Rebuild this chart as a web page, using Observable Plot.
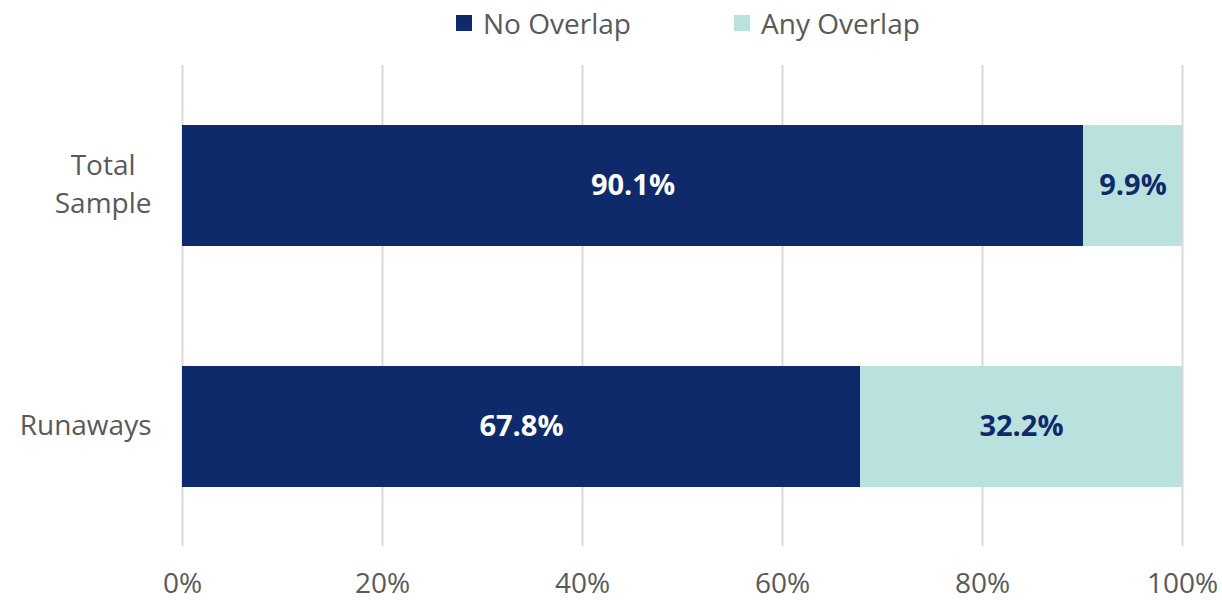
<!DOCTYPE html>
<html>
<head>
<meta charset="utf-8">
<script src="https://cdn.jsdelivr.net/npm/d3@7"></script>
<script src="https://cdn.jsdelivr.net/npm/@observablehq/plot@0.6"></script>
<style>
  body { margin: 0; background: #fff; font-family: "Open Sans", sans-serif; }
  #legend { height: 48px; position: relative; color: #595959; font-size: 28px; }
  .item { position: absolute; top: 4px; display: flex; align-items: center; }
  .sw { width: 16px; height: 16px; margin-right: 11px; }
</style>
</head>
<body>
<div id="legend"></div>
<div id="chart"></div>
<script>
const categories = ["Total\nSample", "Runaways"];
const series = ["No Overlap", "Any Overlap"];
const noOverlap = [90.1, 67.8];
const anyOverlap = [9.9, 32.2];
const xTicks = [0, 20, 40, 60, 80, 100];
const colors = ["#0e2a6b", "#b9e2de"];
const labelColors = ["#ffffff", "#0e2a6b"];

const data = [];
categories.forEach((c, i) => {
  data.push({cat: c, series: series[0], value: noOverlap[i]});
  data.push({cat: c, series: series[1], value: anyOverlap[i]});
});

// legend
const legend = document.getElementById("legend");
const legendX = [456, 734];
series.forEach((s, i) => {
  const d = document.createElement("div");
  d.className = "item";
  d.style.left = legendX[i] + "px";
  d.innerHTML = `<span class="sw" style="background:${colors[i]}"></span><span>${s}</span>`;
  legend.appendChild(d);
});

const chart = Plot.plot({
  width: 1222,
  height: 552,
  marginLeft: 182,
  marginRight: 40,
  marginTop: 17,
  marginBottom: 54,
  style: {fontFamily: "Open Sans, sans-serif", fontSize: "28px", color: "#595959", background: "#fff", overflow: "visible"},
  x: {domain: [0, 100], ticks: xTicks, tickFormat: d => d + "%", label: null},
  y: {domain: categories, paddingInner: 0.5, paddingOuter: 0.244, label: null},
  color: {domain: series, range: colors},
  marks: [
    Plot.gridX(xTicks, {stroke: "#d9d9d9", strokeOpacity: 1, strokeWidth: 2}),
    Plot.barX(data, Plot.stackX({x: "value", y: "cat", fill: "series", order: series})),
    Plot.text(data, Plot.stackX({
      x: "value", y: "cat", z: "series", order: series,
      text: d => d.value.toFixed(1) + "%",
      fill: d => labelColors[series.indexOf(d.series)],
      fontWeight: "bold", fontSize: 29
    })),
    Plot.axisX(xTicks, {tickSize: 0, tickPadding: 27, tickFormat: d => d + "%", fill: "#595959", fontSize: 28, label: null}),
    Plot.axisY({tickSize: 0, tickPadding: 31, fill: "#595959", fontSize: 28, label: null, lineHeight: 1.37, dy: -4})
  ]
});
document.getElementById("chart").appendChild(chart);

// center multi-line category labels within their own block (right-aligned block)
d3.select(chart).selectAll("g[aria-label='y-axis tick label'] text").each(function() {
  const t = d3.select(this);
  const w = this.getBBox().width;
  t.attr("text-anchor", "middle");
  const spans = t.selectAll("tspan");
  if (spans.empty()) t.attr("x", -w / 2);
  else spans.attr("x", -w / 2);
});
</script>
</body>
</html>
